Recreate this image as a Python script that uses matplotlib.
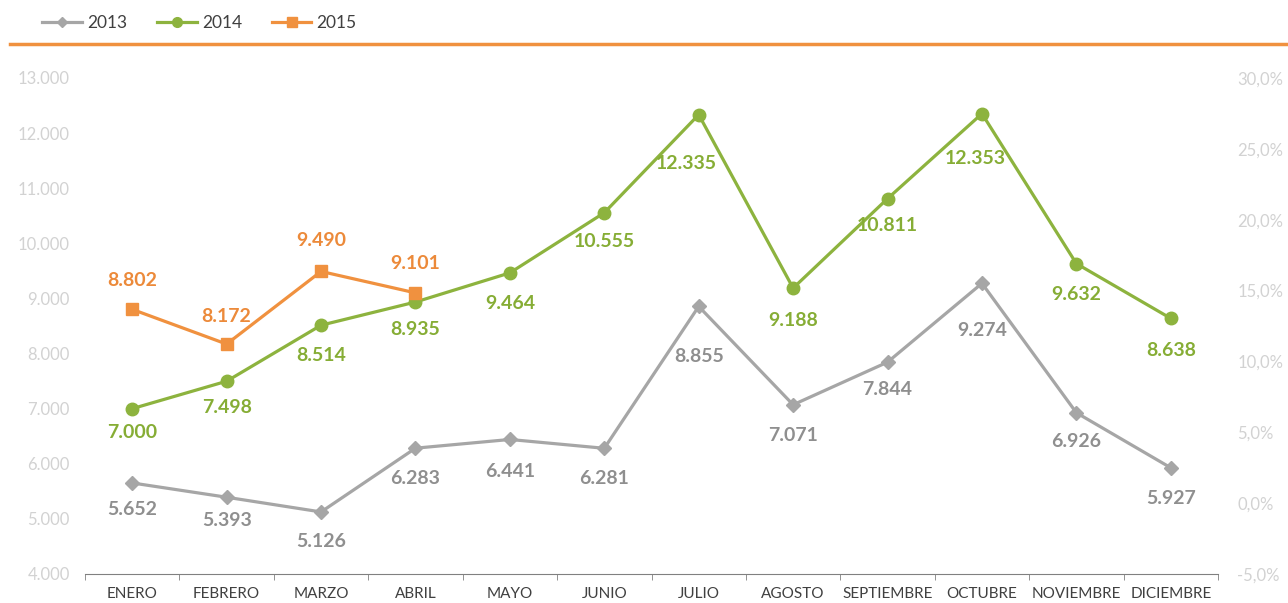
import matplotlib
matplotlib.use("Agg")
import matplotlib.pyplot as plt
from matplotlib.lines import Line2D

months = ["ENERO", "FEBRERO", "MARZO", "ABRIL", "MAYO", "JUNIO", "JULIO",
          "AGOSTO", "SEPTIEMBRE", "OCTUBRE", "NOVIEMBRE", "DICIEMBRE"]
v2013 = [5652, 5393, 5126, 6283, 6441, 6281, 8855, 7071, 7844, 9274, 6926, 5927]
v2014 = [7000, 7498, 8514, 8935, 9464, 10555, 12335, 9188, 10811, 12353, 9632, 8638]
v2015 = [8802, 8172, 9490, 9101]
left_ticks = [4000, 5000, 6000, 7000, 8000, 9000, 10000, 11000, 12000, 13000]
right_ticks = [-5, 0, 5, 10, 15, 20, 25, 30]

# label placement (style, in points)
drop13 = [19, 17, 21, 22, 23, 22, 36, 22, 20, 34, 21, 22]
drop14 = [17, 19, 22, 20, 22, 21, 35, 23, 19, 32, 22, 23]
dx14 = [0, 0, 0, 0, 0, 0, -9, 0, 0, -5, 0, 0]
rise15 = [21, 20, 22, 21]

plt.rcParams['font.family'] = ['Lato', 'DejaVu Sans']

c13, c14, c15 = "#a6a6a6", "#8db33e", "#f0913f"
l13, l14, l15 = "#8f8f8f", "#86ad35", "#ec8a3a"

def fmt(v):
    return f"{v:,}".replace(",", ".")

W, H = 1288, 603
fig = plt.figure(figsize=(W / 100, H / 100), dpi=100)
ax = fig.add_axes([85 / W, 1 - 574 / H, (1218 - 85) / W, (574 - 78) / H])
x = list(range(len(months)))

ax.plot(x, v2013, color=c13, lw=2.3, marker="D", ms=7, zorder=3)
ax.plot(x, v2014, color=c14, lw=2.3, marker="o", ms=9, zorder=3)
ax.plot(x[:len(v2015)], v2015, color=c15, lw=2.3, marker="s", ms=8.5, zorder=4)

for i, v in enumerate(v2013):
    ax.annotate(fmt(v), (i, v), xytext=(0, -drop13[i]), textcoords="offset points",
                ha="center", va="center", fontsize=14, fontweight="bold", color=l13)
for i, v in enumerate(v2014):
    ax.annotate(fmt(v), (i, v), xytext=(dx14[i], -drop14[i]), textcoords="offset points",
                ha="center", va="center", fontsize=14, fontweight="bold", color=l14)
for i, v in enumerate(v2015):
    ax.annotate(fmt(v), (i, v), xytext=(0, rise15[i]), textcoords="offset points",
                ha="center", va="center", fontsize=14, fontweight="bold", color=l15)

ax.set_xlim(-0.5, len(months) - 0.5)
ax.set_ylim(4000, 13000)
ax.set_yticks(left_ticks)
ax.set_yticklabels([fmt(t) for t in left_ticks], color="#d2d2d2", fontsize=12)
ax.set_xticks(x)
ax.set_xticklabels(months, fontsize=11, color="#404040")
ax.tick_params(axis="x", length=0, pad=9)
ax.set_xticks([i - 0.5 for i in range(len(months) + 1)], minor=True)
ax.tick_params(axis="x", which="minor", length=4, color="#808080")
ax.tick_params(axis="y", length=0, pad=11)
for s in ["top", "right", "left"]:
    ax.spines[s].set_visible(False)
ax.spines["bottom"].set_color("#808080")

ax2 = ax.twinx()
ax2.set_ylim(-5, 30)
ax2.set_yticks(right_ticks)
ax2.set_yticklabels([f"{t},0%" for t in right_ticks], color="#d2d2d2", fontsize=12)
ax2.tick_params(axis="y", length=0, pad=14)
for s in ["top", "right", "left", "bottom"]:
    ax2.spines[s].set_visible(False)

# orange separator line
fig.add_artist(Line2D([10 / W, 1.0], [1 - 44 / H, 1 - 44 / H], color="#f0913f", lw=2.5))

handles = [Line2D([], [], color=c13, lw=2.3, marker="D", ms=5),
           Line2D([], [], color=c14, lw=2.3, marker="o", ms=7),
           Line2D([], [], color=c15, lw=2.3, marker="s", ms=7)]
fig.legend(handles, ["2013", "2014", "2015"], loc="center left",
           bbox_to_anchor=(42 / W, 1 - 23 / H), ncol=3, frameon=False,
           fontsize=12.5, handlelength=2.3, columnspacing=1.7, handletextpad=0.3,
           labelcolor="#404040", borderaxespad=0, borderpad=0)

fig.savefig("out.png", dpi=100)
